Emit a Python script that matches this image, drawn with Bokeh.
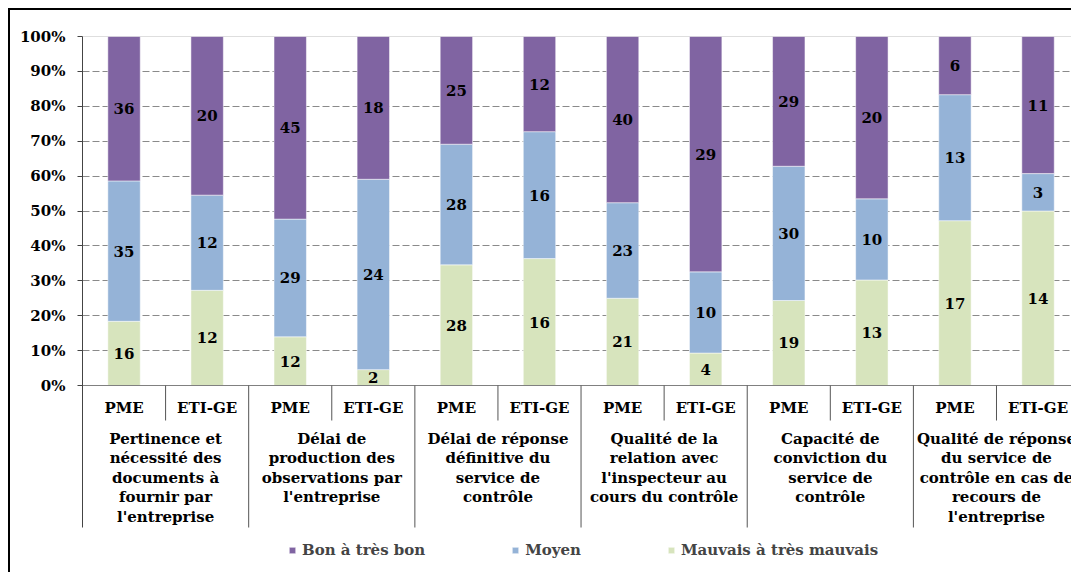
from bokeh.plotting import figure
from bokeh.models import Range1d, FixedTicker, ColumnDataSource, Legend, LegendItem, NumeralTickFormatter
from bokeh.embed import file_html
from bokeh.resources import INLINE
from bokeh.core.properties import value

# ---------------- data ----------------
categories = [
    "Pertinence et\nnécessité des\ndocuments à\nfournir par\nl'entreprise",
    "Délai de\nproduction des\nobservations par\nl'entreprise",
    "Délai de réponse\ndéfinitive du\nservice de\ncontrôle",
    "Qualité de la\nrelation avec\nl'inspecteur au\ncours du contrôle",
    "Capacité de\nconviction du\nservice de\ncontrôle",
    "Qualité de réponse\ndu service de\ncontrôle en cas de\nrecours de\nl'entreprise",
]
groups = ["PME", "ETI-GE"]
series = ["Bon à très bon", "Moyen", "Mauvais à très mauvais"]
colors = ["#8064A2", "#95B3D7", "#D7E4BD"]

mauvais = [16, 12, 12, 2, 28, 16, 21, 4, 19, 13, 17, 14]
moyen = [35, 12, 29, 24, 28, 16, 23, 10, 30, 10, 13, 3]
bon = [36, 20, 45, 18, 25, 12, 40, 29, 29, 20, 6, 11]
y_ticks = [0, 0.1, 0.2, 0.3, 0.4, 0.5, 0.6, 0.7, 0.8, 0.9, 1.0]

# ---------------- layout helpers ----------------
FONT = "DejaVu Serif"
FS = "15px"
PX = 349.0                      # pixels per 100 %
W, H = 1063, 564
LEFT, RIGHT, TOP, BOTTOM = 72, 0, 26, 4
SLOT = 83.09
frame_w = W - LEFT - RIGHT
frame_h = H - TOP - BOTTOM
x_end = frame_w / SLOT
y_start = 1.0 - frame_h / PX


def py(page_y):
    """page pixel row -> data y (0 % baseline at page row 385)"""
    return (385 - page_y) / PX


n = len(mauvais)
xs = [i + 0.5 for i in range(n)]
tot = [a + b + c for a, b, c in zip(mauvais, moyen, bon)]
p_mau = [a / t for a, t in zip(mauvais, tot)]
p_moy = [a / t for a, t in zip(moyen, tot)]
p_bon = [a / t for a, t in zip(bon, tot)]

src = ColumnDataSource(dict(x=xs, mau=p_mau, moy=p_moy, bon=p_bon))

p = figure(width=W, height=H, x_range=Range1d(0, x_end), y_range=Range1d(y_start, 1.0),
           output_backend="svg", toolbar_location=None, x_axis_location=None,
           min_border_left=LEFT, min_border_right=RIGHT, min_border_top=TOP,
           min_border_bottom=BOTTOM)
p.styles = {"border-left": "2px solid #000", "border-top": "2px solid #000",
            "margin-left": "8px", "margin-top": "8px"}
p.outline_line_color = None
p.xgrid.visible = False
p.ygrid.ticker = FixedTicker(ticks=y_ticks[1:-1])
p.ygrid.grid_line_color = "#8a8a8a"
p.ygrid.grid_line_dash = "7 3"
p.ygrid.grid_line_width = 1

ya = p.yaxis[0]
ya.ticker = FixedTicker(ticks=y_ticks)
ya.formatter = NumeralTickFormatter(format="0%")
ya.bounds = (py(527), 1.0)
ya.axis_line_color = "#444444"
ya.major_tick_line_color = "#444444"
ya.major_tick_out = 5
ya.major_tick_in = 0
ya.minor_tick_line_color = None
ya.major_label_text_font = FONT
ya.major_label_text_font_style = "bold"
ya.major_label_text_font_size = FS
ya.major_label_text_color = "#000000"
ya.major_label_standoff = 12

# 100 % line
p.segment(x0=[0], x1=[x_end], y0=[1.0], y1=[1.0], line_color="#bdbdbd", line_width=1)

renderers = p.vbar_stack(["mau", "moy", "bon"], x="x", width=0.39, source=src,
                         color=colors[::-1], line_color="white", line_width=0.5)

# x axis baseline
p.segment(x0=[0], x1=[x_end], y0=[0], y1=[0], line_color="#808080", line_width=1.2)

# separators
short_x = [i * 2 + 1 for i in range(len(categories))]
long_x = [i * 2 for i in range(1, len(categories) + 1)]
p.segment(x0=short_x, x1=short_x, y0=[0] * len(short_x), y1=[py(420)] * len(short_x),
          line_color="#555555", line_width=1)
p.segment(x0=long_x, x1=long_x, y0=[0] * len(long_x), y1=[py(527)] * len(long_x),
          line_color="#555555", line_width=1)

# value labels
lx, ly, lt = [], [], []
for i in range(n):
    segs = [(mauvais[i], 0, p_mau[i]), (moyen[i], p_mau[i], p_moy[i]),
            (bon[i], p_mau[i] + p_moy[i], p_bon[i])]
    for v, base, h in segs:
        lx.append(xs[i])
        ly.append(base + h / 2)
        lt.append(str(v))
p.text(x=lx, y=ly, text=lt, text_font=value(FONT), text_font_style="bold",
       text_font_size=FS, text_align="center", text_baseline="middle", text_color="#000000")

# group labels
p.text(x=xs, y=[py(407)] * n, text=[groups[i % 2] for i in range(n)], text_font=value(FONT),
       text_font_style="bold", text_font_size=FS, text_align="center",
       text_baseline="middle", text_color="#000000")

# category labels (one glyph per line)
cx, cy, ct = [], [], []
for j, c in enumerate(categories):
    for k, line in enumerate(c.split("\n")):
        cx.append(2 * j + 1)
        cy.append(py(438 + 19.5 * k))
        ct.append(line)
p.text(x=cx, y=cy, text=ct, text_font=value(FONT), text_font_style="bold",
       text_font_size=FS, text_align="center", text_baseline="middle", text_color="#000000")

# legend
items = [LegendItem(label=series[0], renderers=[renderers[2]]),
         LegendItem(label=series[1], renderers=[renderers[1]]),
         LegendItem(label=series[2], renderers=[renderers[0]])]
leg = Legend(items=items, orientation="horizontal", location=(206, 10),
             glyph_width=8, glyph_height=8, label_standoff=6, spacing=86,
             padding=0, margin=0, border_line_color=None, background_fill_alpha=0,
             label_text_font=FONT, label_text_font_style="bold", label_text_font_size=FS,
             label_height=20)
p.add_layout(leg, "center")

open("out.html", "w").write(file_html(p, INLINE))
